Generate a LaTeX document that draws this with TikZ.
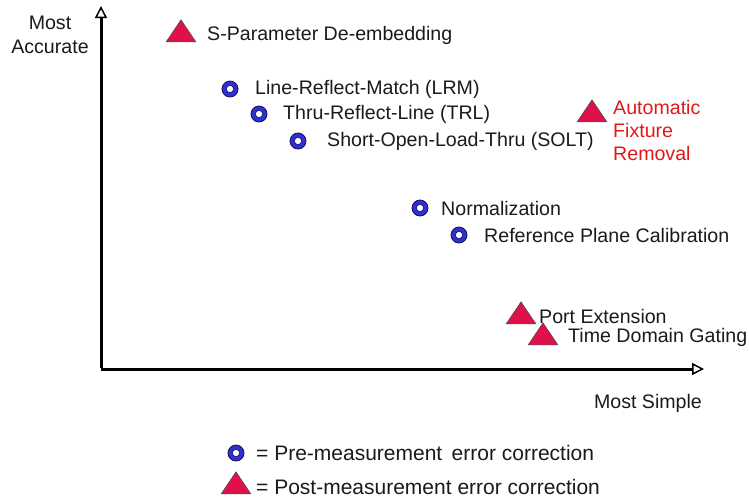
\documentclass[tikz,border=0pt]{standalone}
\usepackage{fontspec}
\setmainfont{Liberation Sans}
\usetikzlibrary{arrows.meta,shapes.geometric}
\definecolor{txt}{HTML}{1A1A1A}
\definecolor{tri}{HTML}{E0104A}
\definecolor{ring}{HTML}{3030D0}
\definecolor{ringedge}{HTML}{101060}
\definecolor{redtxt}{HTML}{E01818}
\tikzset{
  lbl/.style={anchor=west,inner sep=0pt,text=txt,font=\fontsize{19.6}{23}\selectfont},
  leg/.style={lbl,font=\fontsize{21}{25}\selectfont},
  trimark/.style={isosceles triangle,isosceles triangle apex angle=68,shape border rotate=90,
    fill=tri,draw=black!70,line width=0.6pt,minimum height=22pt,inner sep=0pt},
  circmark/.style={circle,fill=ring,draw=ringedge,line width=0.8pt,minimum size=16pt,inner sep=0pt,
    path picture={\filldraw[fill=white,draw=ringedge,line width=0.6pt] (path picture bounding box.center) circle (3.6pt);}},
  axisline/.style={line width=3pt,-{Triangle[open,length=12pt,width=12pt,line width=1.5pt]}}
}
\begin{document}
\begin{tikzpicture}[x=1pt,y=-1pt]
\useasboundingbox (0,0) rectangle (749,501);
% axes
\coordinate (origin) at (101,369);
\coordinate (ytop) at (101,6);
\coordinate (xend) at (704,369);
\draw[axisline] ([yshift=1.5pt]origin) -- (ytop);
\draw[axisline] (origin) -- (xend);
% axis labels
\node[lbl,anchor=center,align=center,font=\fontsize{19.6}{24}\selectfont] (acc) at (50,35) {Most\\Accurate};
\node[lbl,anchor=center] (simp) at (648,403) {Most Simple};
% markers and labels
\node[trimark] (t1) at (181,34) {};
\node[lbl] (l1) at (207,35) {S-Parameter De-embedding};
\node[circmark] (c1) at (230,89) {};
\node[lbl] (l2) at (255,89) {Line-Reflect-Match (LRM)};
\node[circmark] (c2) at (259,114) {};
\node[lbl] (l3) at (283,114) {Thru-Reflect-Line (TRL)};
\node[circmark] (c3) at (298,141) {};
\node[lbl] (l4) at (327,141) {Short-Open-Load-Thru (SOLT)};
\node[trimark] (t2) at (592,114) {};
\node[lbl,text=redtxt,align=left,anchor=north west,font=\fontsize{19.6}{23}\selectfont] (l5) at (613,100) {Automatic\\Fixture\\Removal};
\node[circmark] (c4) at (420,208) {};
\node[lbl] (l6) at (441,208) {Normalization};
\node[circmark] (c5) at (459,235) {};
\node[lbl] (l7) at (484,235) {Reference Plane Calibration};
\node[trimark] (t3) at (521,316) {};
\node[lbl] (l8) at (539,316) {Port Extension};
\node[trimark] (t4) at (543,337) {};
\node[lbl] (l9) at (568,337) {Time Domain Gating};
% legend
\node[circmark] (lc) at (236,453) {};
\node[leg] (lg1) at (256,453) {= Pre-measurement\, error correction};
\node[trimark] (lt) at (236,486) {};
\node[leg] (lg2) at (256,487) {= Post-measurement error correction};
\end{tikzpicture}
\end{document}
